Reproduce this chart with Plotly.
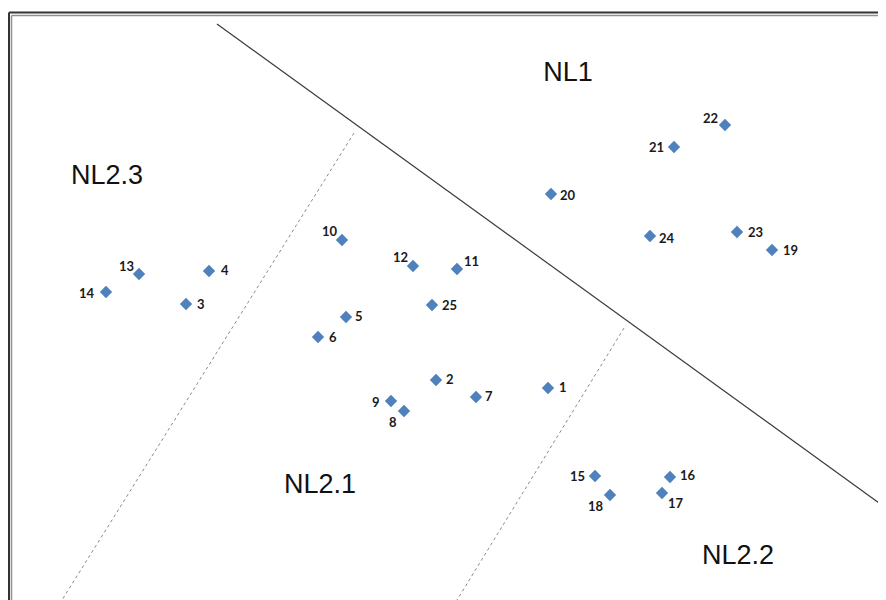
import plotly.graph_objects as go

# Point ids and positions (chart units, y up; visible window spans 8..886 x 0..592)
ids = [str(i) for i in range(1, 26)]
x_vals = [548, 436, 186, 209, 346, 318, 476, 404, 391, 342, 457, 413, 139, 106,
          595, 670, 662, 610, 772, 551, 674, 725, 737, 650, 432]
y_vals = [212, 220, 296, 329, 283, 263, 203, 189, 199, 360, 331, 334, 326, 308,
          124, 123, 107, 105, 350, 406, 453, 475, 368, 364, 295]
# label offsets from marker (pixels, style only)
label_dx = [15, 14, 15, 16, 13, 15, 13, -11, -15, -12, 14, -13, -13, -19, -18,
            18, 14, -14, 18, 17, -18, -15, 18, 17, 17]
label_dy = [1, 1, 0, 1, 1, 0, 1, -11, -1, 9, 8, 9, 8, -1, 0,
            2, -10, -11, 0, -1, 0, 7, 0, -2, 0]

# Boundary lines
solid_x = [217, 886]
solid_y = [576, 92]
dot1_x = [354, 62]
dot1_y = [467, 0]
dot2_x = [624, 457]
dot2_y = [272, 0]

# Region labels
region_names = ["NL1", "NL2.3", "NL2.1", "NL2.2"]
region_x = [568, 107, 320, 738]
region_y = [526, 423, 114, 43]

W, H = 878, 592

fig = go.Figure()
fig.add_trace(go.Scatter(x=solid_x, y=solid_y, mode="lines",
                         line=dict(color="#3a3a3a", width=1.2), hoverinfo="skip"))
fig.add_trace(go.Scatter(x=dot1_x, y=dot1_y, mode="lines",
                         line=dict(color="#8a8a8a", width=1, dash="dot"), hoverinfo="skip"))
fig.add_trace(go.Scatter(x=dot2_x, y=dot2_y, mode="lines",
                         line=dict(color="#8a8a8a", width=1, dash="dot"), hoverinfo="skip"))
fig.add_trace(go.Scatter(
    x=x_vals, y=y_vals, mode="markers", text=ids,
    marker=dict(symbol="diamond", size=9.5, color="#4F81BD", line=dict(width=0)),
))
fig.add_trace(go.Scatter(
    x=region_x, y=region_y, mode="text", text=region_names, textposition="middle center",
    textfont=dict(family="Liberation Sans, Arial", size=27, color="#111111"),
))

for t, xv, yv, dx, dy in zip(ids, x_vals, y_vals, label_dx, label_dy):
    fig.add_annotation(x=xv, y=yv, text=t, showarrow=False, xanchor="center", yanchor="middle",
                       xshift=dx, yshift=dy,
                       font=dict(family="Lato", size=13, color="#1a1a1a", weight="bold"))

# Frame (double border at top and left)
def px(v):
    return (v - 8) / W

def py(v):
    return 1 - (v - 8) / H

fig.add_shape(type="line", xref="paper", yref="paper", x0=px(9), x1=1.01, y0=py(12.5), y1=py(12.5),
              line=dict(color="#333333", width=2))
fig.add_shape(type="line", xref="paper", yref="paper", x0=px(11.5), x1=1.01, y0=py(15.5), y1=py(15.5),
              line=dict(color="#909090", width=1.5))
fig.add_shape(type="line", xref="paper", yref="paper", x0=px(9), x1=px(9), y0=-0.01, y1=py(12.5),
              line=dict(color="#333333", width=2))
fig.add_shape(type="line", xref="paper", yref="paper", x0=px(11.5), x1=px(11.5), y0=-0.01, y1=py(15.5),
              line=dict(color="#909090", width=1.5))

fig.update_layout(
    width=W, height=H, margin=dict(l=0, r=0, t=0, b=0),
    showlegend=False, plot_bgcolor="white", paper_bgcolor="white",
    xaxis=dict(range=[8, 886], visible=False, fixedrange=True),
    yaxis=dict(range=[0, 592], visible=False, fixedrange=True),
)
fig.write_html("out.html")
